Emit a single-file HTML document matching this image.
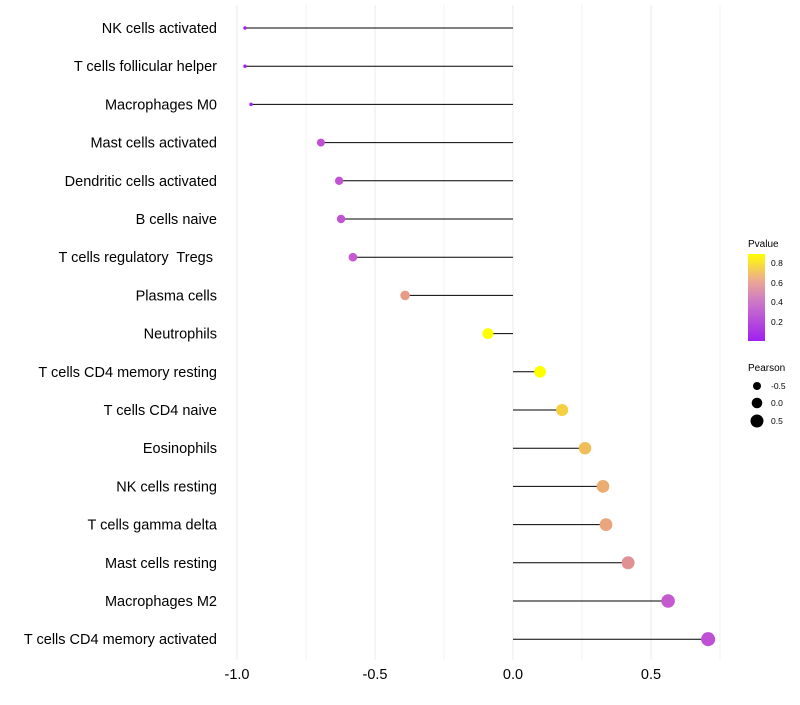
<!DOCTYPE html>
<html><head><meta charset="utf-8"><style>
body{margin:0;background:#fff;font-family:"Liberation Sans",sans-serif;}
text{white-space:pre;}
</style></head><body>
<svg id="chart" width="800" height="700" xmlns="http://www.w3.org/2000/svg">
<defs><linearGradient id="pg" x1="0" y1="1" x2="0" y2="0">
<stop offset="0" stop-color="#a020f0"/><stop offset="0.45" stop-color="#cc77c8"/><stop offset="0.7" stop-color="#eeaa90"/><stop offset="1" stop-color="#ffff00"/></linearGradient></defs>
<g id="grid"></g><g id="marks"></g><g id="labels"></g>
<g font-size="10">
<text x="748" y="247" fill="#000">Pvalue</text>
<rect x="748" y="254" width="17" height="87" fill="url(#pg)"/>
<text x="771" y="266" font-size="8.5">0.8</text>
<text x="771" y="286" font-size="8.5">0.6</text>
<text x="771" y="305" font-size="8.5">0.4</text>
<text x="771" y="325" font-size="8.5">0.2</text>
<text x="748" y="371">Pearson</text>
<circle cx="757" cy="386" r="4" fill="#000"/><text x="771" y="389" font-size="8.5">-0.5</text>
<circle cx="757" cy="403" r="5.3" fill="#000"/><text x="771" y="406" font-size="8.5">0.0</text>
<circle cx="757" cy="421" r="6.5" fill="#000"/><text x="771" y="424" font-size="8.5">0.5</text>
</g>
</svg>
<script>
const categories=["NK cells activated","T cells follicular helper","Macrophages M0","Mast cells activated","Dendritic cells activated","B cells naive","T cells regulatory  Tregs ","Plasma cells","Neutrophils","T cells CD4 memory resting","T cells CD4 naive","Eosinophils","NK cells resting","T cells gamma delta","Mast cells resting","Macrophages M2","T cells CD4 memory activated"];
const pearson=[-0.971,-0.971,-0.949,-0.696,-0.630,-0.623,-0.580,-0.391,-0.091,0.098,0.178,0.261,0.326,0.337,0.417,0.562,0.707];
const pvalues=[0.0,0.0,0.0,0.28,0.3,0.3,0.33,0.6,0.88,0.88,0.75,0.7,0.65,0.63,0.56,0.33,0.28];
const xTicks=[-1.0,-0.5,0.0,0.5];
const xTickLabels=["-1.0","-0.5","0.0","0.5"];
const NS="http://www.w3.org/2000/svg";
const xS=v=>513+v*276;
const yS=i=>28+i*38.2;
const rS=p=>Math.sqrt(Math.max(3,32.5+23.6*p-(p<-0.7?(-0.7-p)*40:0)));
function lerp(a,b,t){return a.map((x,k)=>Math.round(x+(b[k]-x)*t));}
function col(p){const t=Math.min(1,Math.max(0,p/0.88));
const st=[[0,[160,32,240]],[0.45,[204,100,200]],[0.7,[232,160,130]],[1,[255,255,0]]];
for(let i=0;i<st.length-1;i++){if(t<=st[i+1][0]){const c=lerp(st[i][1],st[i+1][1],(t-st[i][0])/(st[i+1][0]-st[i][0]));return`rgb(${c})`;}}return"rgb(255,255,0)";}
function mk(tag,at,parent){const e=document.createElementNS(NS,tag);for(const k in at)e.setAttribute(k,at[k]);document.getElementById(parent).appendChild(e);return e;}
const grid="grid";
[-1,-0.75,-0.5,-0.25,0,0.25,0.5,0.75].forEach(v=>{const l=mk("line",{x1:xS(v),x2:xS(v),y1:5,y2:660,stroke:"#ebebeb","stroke-width":v*4%2===0?1:0.6},grid);

});
categories.forEach((c,i)=>{const y=yS(i);
const s=mk("line",{x1:xS(0),x2:xS(pearson[i]),y1:y,y2:y,stroke:"#000","stroke-width":1},"marks");


const d=mk("circle",{cx:xS(pearson[i]),cy:y,r:rS(pearson[i]),fill:col(pvalues[i])},"marks");


const t=mk("text",{x:217,y:y+5,"text-anchor":"end","font-size":14.5,fill:"#000"},"labels");
t.textContent=c;

});
xTicks.forEach((v,i)=>{const t=mk("text",{x:xS(v),y:679,"text-anchor":"middle","font-size":14.5,fill:"#000"},"labels");
t.textContent=xTickLabels[i];

});
</script>
</body></html>
